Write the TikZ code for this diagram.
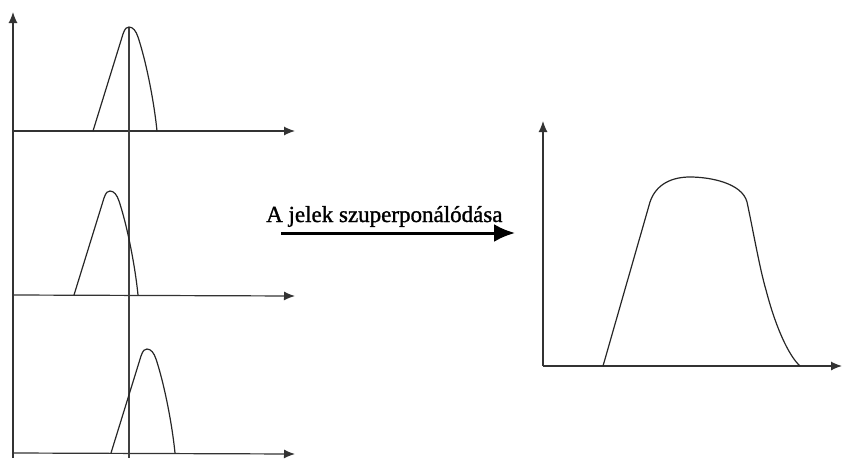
\documentclass[tikz,border=0pt]{standalone}
\usepackage{fontspec}
\setmainfont{Liberation Serif}
\newfontfamily\lblfont{Liberation Serif}[FakeBold=1.2]
\usetikzlibrary{arrows.meta}
\begin{document}
\begin{tikzpicture}[x=1pt,y=-1pt,
  axis/.style={draw=black!80, line width=1.2pt, -{Latex[length=11pt,width=9pt]}},
  curve/.style={draw=black!85, line width=1.2pt},
  bigarrow/.style={draw=black, line width=3pt, -{Latex[length=21pt,width=18pt]}},
  pulse/.pic={\draw[curve] (-36,0) -- (-6,-97) .. controls (-4,-103) and (-2,-104) .. (0,-104) .. controls (4,-104) and (7,-100) .. (9,-94) .. controls (17,-70) and (25,-30) .. (28,0);}]
\useasboundingbox (0,0) rectangle (842,458);
% left axes
\coordinate (lo) at (13,458);
\coordinate (ltop) at (13,12);
\draw[axis] (lo) -- (ltop);
\coordinate (b1) at (13,131); \coordinate (e1) at (295,131);
\coordinate (b2) at (13,295); \coordinate (e2) at (295,296);
\coordinate (b3) at (13,453); \coordinate (e3) at (295,454);
\draw[axis] (b1) -- (e1);
\draw[axis] (b2) -- (e2);
\draw[axis] (b3) -- (e3);
% reference vertical line
\coordinate (vt) at (129,27); \coordinate (vb) at (129,458);
\draw[curve, draw=black!75] (vt) -- (vb);
% pulses
\pic at (129,131) {pulse};
\pic at (110,295) {pulse};
\pic at (147,453) {pulse};
% big arrow with label
\coordinate (as) at (281,233); \coordinate (ae) at (515,233);
\draw[bigarrow] (as) -- (ae);
\node[anchor=base west, inner sep=0pt, font=\lblfont\fontsize{23}{26}\selectfont] (lbl) at (266,222) {A jelek szuperponálódása};
% right axes
\coordinate (ro) at (543,366);
\coordinate (ry) at (543,121);
\coordinate (rx) at (842,366);
\draw[axis] (ro) -- (ry);
\draw[axis] (ro) -- (rx);
% superposed curve
\draw[curve] (603,366) -- (650,202) .. controls (656,184) and (672,177) .. (690,177) .. controls (710,177) and (742,183) .. (747,202) .. controls (753,230) and (760,270) .. (766,290) .. controls (775,325) and (788,355) .. (800,366);
\end{tikzpicture}
\end{document}
